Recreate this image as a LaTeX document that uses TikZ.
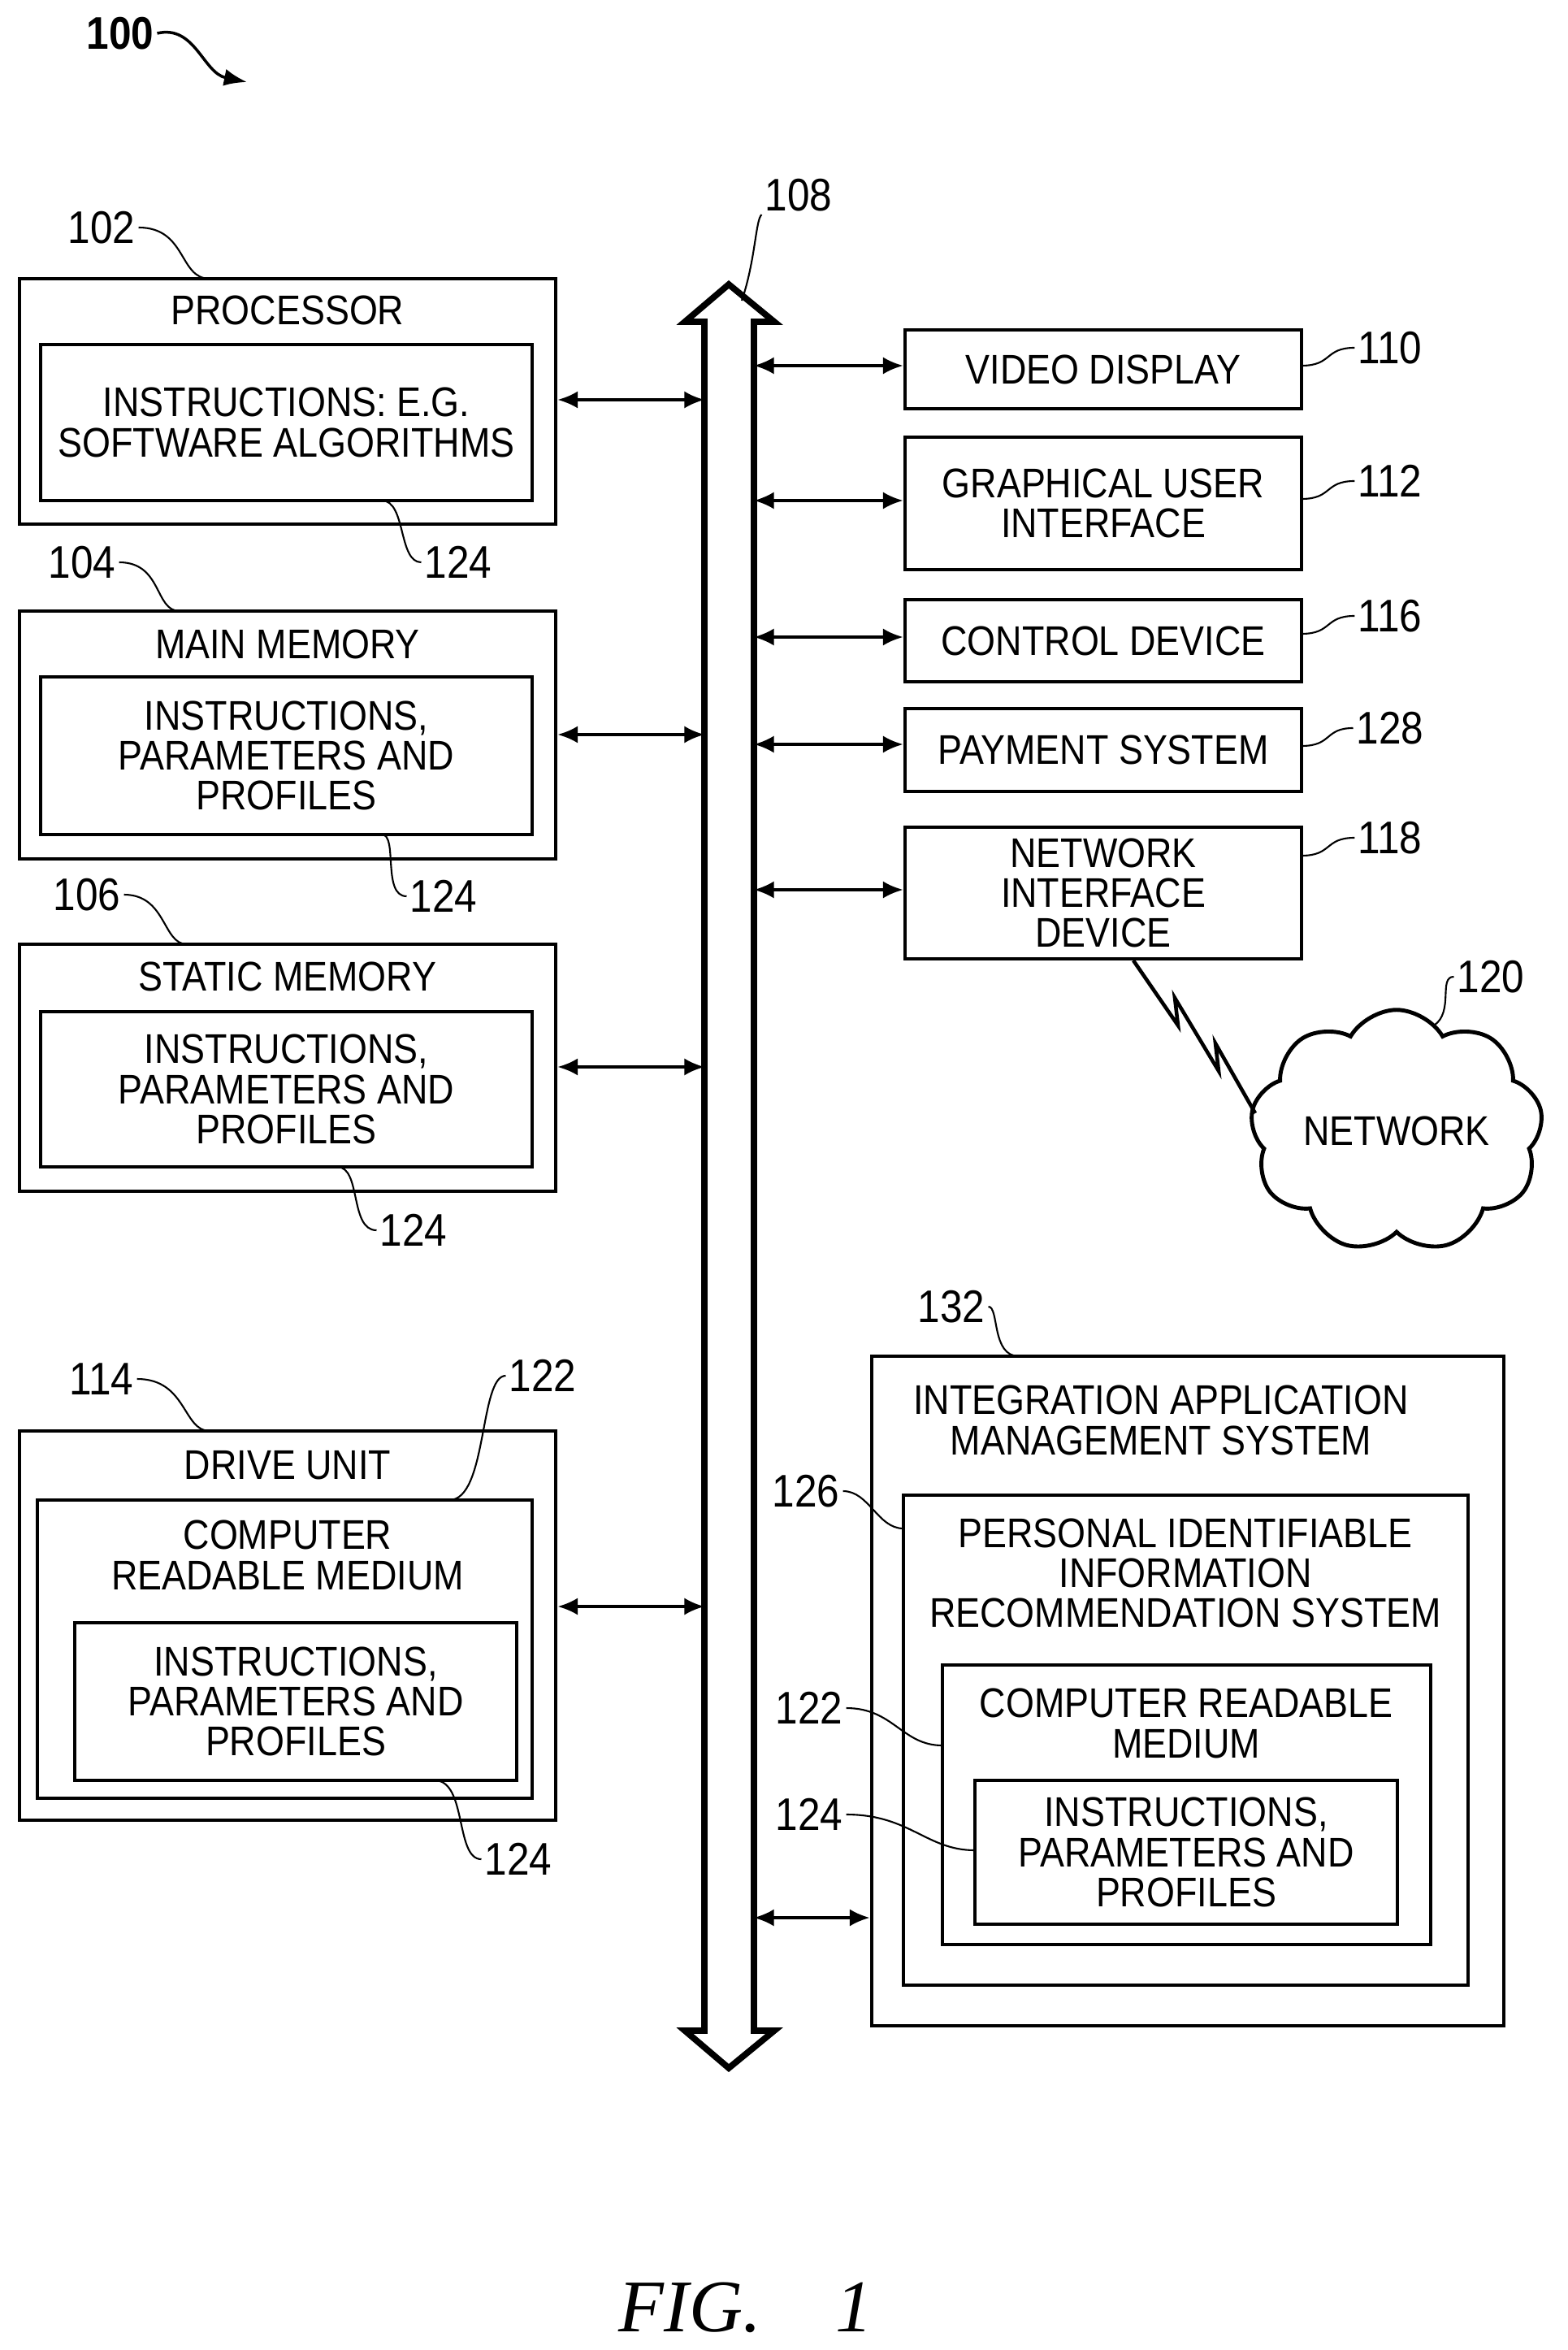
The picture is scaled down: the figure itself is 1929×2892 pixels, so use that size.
\documentclass[tikz,border=0pt]{standalone}
\usepackage{fontspec}
\setmainfont{Liberation Sans}[FakeStretch=0.88]
\usetikzlibrary{fit,shapes.symbols,calc,arrows.meta}

\tikzset{
  box/.style={draw, line width=1.4pt, inner sep=0pt},
  txt/.style={align=center, font=\fontsize{14.5}{14}\selectfont, inner sep=0pt},
  num/.style={font=\fontsize{16}{16}\selectfont, inner sep=1pt},
  lead/.style={line width=0.6pt},
  link/.style={line width=0.9pt, {Latex[length=7pt,width=6pt]}-{Latex[length=7pt,width=6pt]}}
}

\begin{document}
\begin{tikzpicture}[x=0.01cm, y=-0.01cm]
  \useasboundingbox (0,0) rectangle (1929,2892);

  % Left column:
  \node[box, fit={(24,343)(684,645)}]   (proc) {};
  \node[box, fit={(50,424)(655,616)}]   (procIns) {};
  \node[txt] at (354,382) {PROCESSOR};
  \node[txt] at (procIns) {INSTRUCTIONS: E.G.\\SOFTWARE ALGORITHMS};

  \node[box, fit={(24,752)(684,1057)}]  (mainMem) {};
  \node[box, fit={(50,833)(655,1027)}]  (mainIns) {};
  \node[txt] at (354,793) {MAIN MEMORY};
  \node[txt] at (mainIns) {INSTRUCTIONS,\\PARAMETERS AND\\PROFILES};

  \node[box, fit={(24,1162)(684,1466)}] (statMem) {};
  \node[box, fit={(50,1245)(655,1436)}] (statIns) {};
  \node[txt] at (354,1202) {STATIC MEMORY};
  \node[txt] at (statIns) {INSTRUCTIONS,\\PARAMETERS AND\\PROFILES};

  \node[box, fit={(24,1761)(684,2240)}] (drive) {};
  \node[box, fit={(46,1846)(655,2213)}] (driveCrm) {};
  \node[box, fit={(92,1997)(636,2191)}] (driveIns) {};
  \node[txt] at (354,1803) {DRIVE UNIT};
  \node[txt] at (354,1914) {COMPUTER\\READABLE MEDIUM};
  \node[txt] at (driveIns) {INSTRUCTIONS,\\PARAMETERS AND\\PROFILES};

  % Bus:
  \draw[line width=2.2pt, fill=white] (897,350) -- (953,396) -- (928,396) -- (928,2499) -- (953,2499)
    -- (897,2545) -- (843,2499) -- (867,2499) -- (867,396) -- (843,396) -- cycle;
  \coordinate (busTop) at (913,370);

  % Right column:
  \node[box, fit={(1114,406)(1602,503)}]  (video) {};
  \node[txt] at (video) {VIDEO DISPLAY};
  \node[box, fit={(1114,538)(1602,701)}]  (gui) {};
  \node[txt] at (gui) {GRAPHICAL USER\\INTERFACE};
  \node[box, fit={(1114,738)(1602,839)}]  (ctrl) {};
  \node[txt] at (ctrl) {CONTROL DEVICE};
  \node[box, fit={(1114,872)(1602,974)}]  (pay) {};
  \node[txt] at (pay) {PAYMENT SYSTEM};
  \node[box, fit={(1114,1018)(1602,1180)}] (nic) {};
  \node[txt] at (nic) {NETWORK\\INTERFACE\\DEVICE};

  \node[cloud, draw, line width=1.4pt, cloud puffs=9, cloud puff arc=120, aspect=1.3,
        minimum width=3.6cm, minimum height=2.9cm, txt] (net) at (1719,1392) {NETWORK};

  % Wireless link:
  \draw[line width=1.3pt] (1395,1182) -- (1450,1262) -- (1446,1228) -- (1500,1318) -- (1496,1284) -- (1545,1370);

  \node[box, fit={(1073,1669)(1851,2493)}] (iams) {};
  \node[box, fit={(1112,1840)(1807,2443)}] (pii) {};
  \node[box, fit={(1160,2049)(1761,2393)}] (crm) {};
  \node[box, fit={(1200,2191)(1720,2368)}] (ins) {};
  \node[txt] at (1429,1748) {INTEGRATION APPLICATION\\MANAGEMENT SYSTEM};
  \node[txt] at (1459,1936) {PERSONAL IDENTIFIABLE\\INFORMATION\\RECOMMENDATION SYSTEM};
  \node[txt] at (1460,2121) {COMPUTER READABLE\\MEDIUM};
  \node[txt] at (ins) {INSTRUCTIONS,\\PARAMETERS AND\\PROFILES};

  % Bus connections:
  \foreach \n/\y in {proc/492, mainMem/904, statMem/1313, drive/1977} {
    \coordinate (bus\n) at (867,\y);
    \draw[link] (\n.east |- bus\n) -- (bus\n);
  }
  \foreach \n/\y in {video/450, gui/616, ctrl/784, pay/916, nic/1095, iams/2360} {
    \coordinate (bus\n) at (928,\y);
    \draw[link] (bus\n) -- (\n.west |- bus\n);
  }

  % Reference numbers:
  \node[num] (n100) at (148,41) {\textbf{100}};
  \draw[lead, line width=1pt, -{Latex[length=8pt]}] (n100.east) .. controls (240,30) and (250,90) .. (304,101);
  \node[num] (n102) at (125,280) {102};
  \draw[lead] (n102.east) .. controls (230,280) and (220,343) .. (258,343);
  \node[num] (n104) at (101,692) {104};
  \draw[lead] (n104.east) .. controls (200,692) and (190,752) .. (221,752);
  \node[num] (n106) at (107,1101) {106};
  \draw[lead] (n106.east) .. controls (205,1101) and (200,1162) .. (230,1162);
  \node[num] (n114) at (125,1697) {114};
  \draw[lead] (n114.east) .. controls (230,1697) and (225,1761) .. (258,1761);
  \node[num] (n122a) at (668,1693) {122};
  \draw[lead] (n122a.west) .. controls (590,1693) and (600,1846) .. (553,1846);
  \node[num] (n124a) at (564,692) {124};
  \draw[lead] (n124a.west) .. controls (490,692) and (500,616) .. (470,616);
  \node[num] (n124b) at (546,1103) {124};
  \draw[lead] (n124b.west) .. controls (470,1103) and (490,1027) .. (470,1027);
  \node[num] (n124c) at (509,1514) {124};
  \draw[lead] (n124c.west) .. controls (430,1514) and (445,1436) .. (415,1436);
  \node[num] (n124d) at (638,2288) {124};
  \draw[lead] (n124d.west) .. controls (560,2288) and (575,2191) .. (535,2191);
  \node[num] (n108) at (983,240) {108};
  \draw[lead] (n108.south west) .. controls (930,270) and (930,320) .. (busTop);
  \foreach \n/\lab/\y in {video/110/428, gui/112/592, ctrl/116/758, pay/128/896, nic/118/1031} {
    \node[num] (n\lab) at (1711,\y) {\lab};
    \draw[lead] (n\lab.west) .. controls (1630,\y) and (1640,\y+22) .. (1602,\y+22);
  }
  \node[num] (n120) at (1835,1202) {120};
  \draw[lead] (n120.west) .. controls (1770,1202) and (1790,1245) .. (1765,1262);
  \node[num] (n132) at (1171,1608) {132};
  \draw[lead] (n132.east) .. controls (1230,1608) and (1220,1669) .. (1254,1669);
  \node[num] (n126) at (992,1835) {126};
  \draw[lead] (n126.east) .. controls (1070,1835) and (1080,1881) .. (1112,1881);
  \node[num] (n122b) at (996,2102) {122};
  \draw[lead] (n122b.east) .. controls (1100,2102) and (1110,2148) .. (1160,2148);
  \node[num] (n124e) at (996,2233) {124};
  \draw[lead] (n124e.east) .. controls (1120,2233) and (1140,2277) .. (1200,2277);

  % Caption:
  \node[font=\fontspec{Liberation Serif}\itshape\fontsize{26}{26}\selectfont] at (918,2840) {FIG.\quad 1};

\end{tikzpicture}
\end{document}
